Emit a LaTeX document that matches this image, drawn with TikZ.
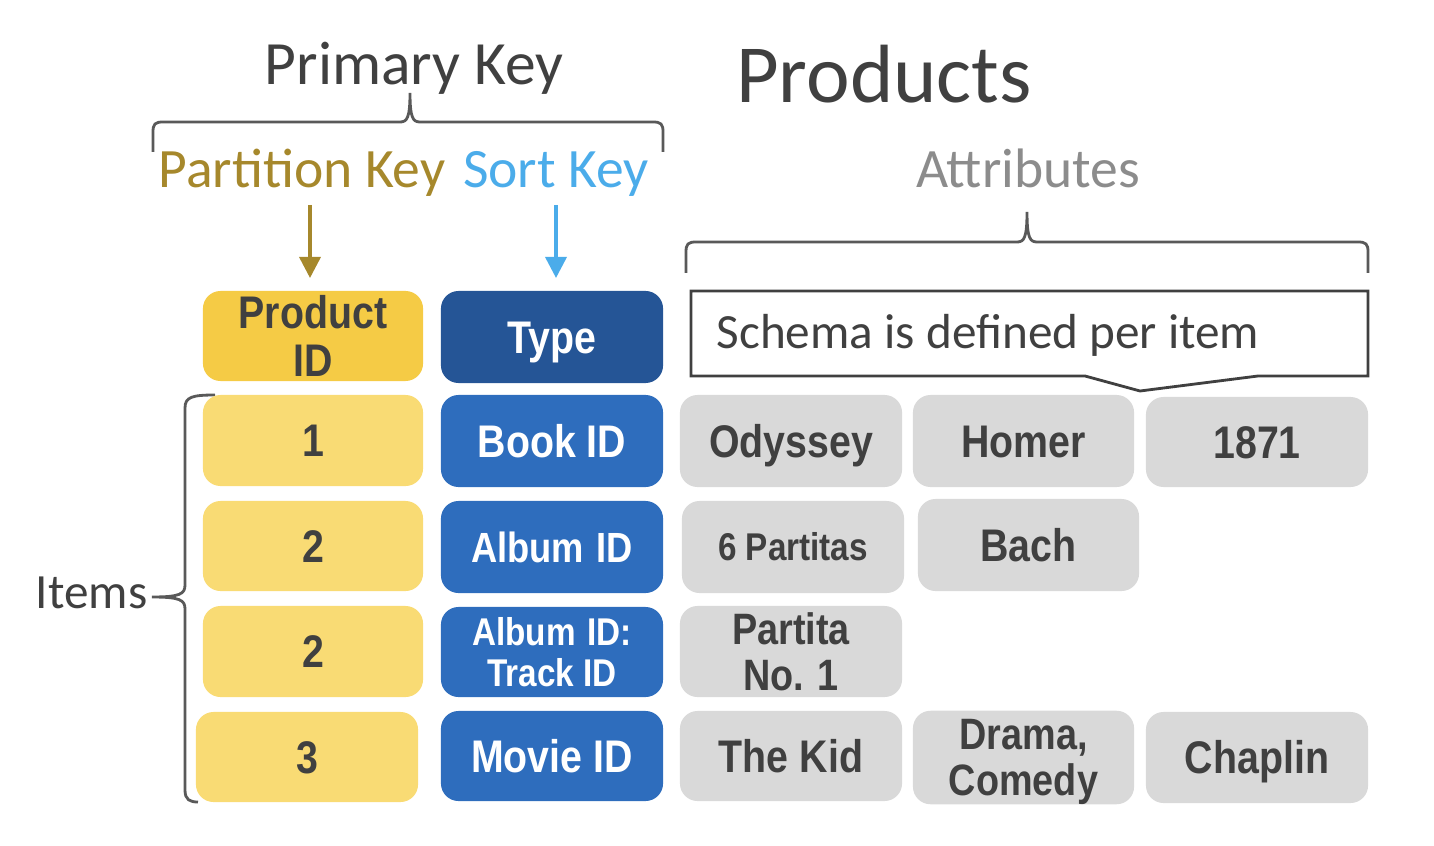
\documentclass[tikz,border=0pt]{standalone}
\usepackage{fontspec}
\setmainfont{Carlito}
\newfontfamily\boxfont[FakeStretch=0.86]{Liberation Sans}
\usetikzlibrary{arrows.meta}
\definecolor{txtdark}{HTML}{404040}
\definecolor{gold}{HTML}{A6882C}
\definecolor{skyb}{HTML}{4BACEA}
\definecolor{attrg}{HTML}{8C8C8C}
\definecolor{hdrY}{HTML}{F5CB45}
\definecolor{cellY}{HTML}{F9DB74}
\definecolor{hdrB}{HTML}{255596}
\definecolor{cellB}{HTML}{2E6DBD}
\definecolor{cellG}{HTML}{D9D9D9}
\definecolor{lineg}{HTML}{595959}
\tikzset{
  cellbox/.style={rounded corners=5pt, inner sep=0pt, align=center,
    font=\boxfont\bfseries\fontsize{13}{13.5}\selectfont},
  oneline/.style={text height=#1, text depth=0pt},
  oneline/.default=9.3pt,
  ycell/.style={cellbox, fill=cellY, text=txtdark, minimum width=2.20cm, minimum height=0.91cm},
  yhead/.style={cellbox, fill=hdrY, text=txtdark, minimum width=2.20cm, minimum height=0.90cm},
  bcell/.style={cellbox, fill=cellB, text=white, minimum width=2.22cm, minimum height=0.92cm},
  bhead/.style={cellbox, fill=hdrB, text=white, minimum width=2.22cm, minimum height=0.92cm},
  gcell/.style={cellbox, fill=cellG, text=txtdark, minimum width=2.22cm, minimum height=0.92cm},
  bracepath/.style={draw=lineg, line width=0.8pt},
  keyarrow/.style={line width=1pt, -{Triangle[width=6pt,length=6pt]}},
  lbl/.style={inner sep=0pt, anchor=base}
}
\begin{document}
\begin{tikzpicture}[x=0.01cm, y=-0.01cm]
\useasboundingbox (0,0) rectangle (1434,846);
% titles
\node[lbl, text=txtdark, font=\fontsize{17.5}{20}\selectfont] (pkey) at (414,85) {Primary Key};
\node[lbl, text=txtdark, font=\fontsize{23.5}{26}\selectfont] (prod) at (884,103) {Products};
\node[lbl, text=gold, font=\fontsize{15.8}{18}\selectfont] (part) at (302,188) {Partition Key};
\node[lbl, text=skyb, font=\fontsize{15.8}{18}\selectfont] (sortk) at (556,188) {Sort Key};
\node[lbl, text=attrg, font=\fontsize{15.8}{18}\selectfont] (attr) at (1028,188) {Attributes};
\node[lbl, anchor=base east, text=txtdark, font=\fontsize{14}{16}\selectfont] (items) at (148,608) {Items};
% braces
\draw[bracepath] (153,152) -- (153,132) .. controls (153,124) and (155,122) .. (163,122) -- (400,122) .. controls (407,122) and (410,118) .. (410,93) .. controls (410,118) and (413,122) .. (420,122) -- (653,122) .. controls (661,122) and (663,124) .. (663,132) -- (663,152);
\draw[bracepath] (686,273) -- (686,252) .. controls (686,244) and (688,242) .. (696,242) -- (1017,242) .. controls (1024,242) and (1027,238) .. (1027,212) .. controls (1027,238) and (1030,242) .. (1037,242) -- (1358,242) .. controls (1366,242) and (1368,244) .. (1368,252) -- (1368,273);
\draw[bracepath] (215,395) .. controls (192,395) and (185,397) .. (185,408) -- (185,585) .. controls (185,594) and (180,597) .. (152,597) .. controls (180,597) and (185,600) .. (185,609) -- (185,790) .. controls (185,800) and (190,802) .. (198,802);
% arrows
\coordinate (pa1) at (310,205);
\coordinate (pa2) at (310,278);
\coordinate (sa1) at (556,205);
\coordinate (sa2) at (556,278);
\draw[keyarrow, draw=gold, fill=gold] (pa1) -- (pa2);
\draw[keyarrow, draw=skyb, fill=skyb] (sa1) -- (sa2);
% headers
\node[yhead] (ph) at (313,336) {Product\\ID};
\node[bhead, oneline] (th) at (552,337) {Type};
% schema callout
\coordinate (c1) at (691,291);
\coordinate (c2) at (1368,291);
\coordinate (c3) at (1368,376);
\coordinate (c4) at (1258,376);
\coordinate (c5) at (1140,391);
\coordinate (c6) at (1085,376);
\coordinate (c7) at (691,376);
\draw[draw=txtdark, line width=0.8pt, line join=miter] (c1) -- (c2) -- (c3) -- (c4) -- (c5) -- (c6) -- (c7) -- cycle;
\node[lbl, anchor=base west, text=txtdark, font=\fontsize{14}{16}\selectfont] (schema) at (716,349) {Schema is defined per item};
% row 1
\node[ycell, oneline] (y1) at (313,440.5) {1};
\node[bcell, oneline] (b1) at (552,441) {Book ID};
\node[gcell, oneline] (g11) at (791,441) {Odyssey};
\node[gcell, oneline, minimum width=2.21cm] (g12) at (1023.5,441) {Homer};
\node[gcell, oneline, minimum height=0.90cm] (g13) at (1257,442) {1871};
% row 2
\node[ycell, oneline, minimum height=0.90cm] (y2) at (313,546) {2};
\node[bcell, oneline=8.6pt, font=\boxfont\bfseries\fontsize{12}{13}\selectfont] (b2) at (552,547) {Album\hspace{0.3em}ID};
\node[gcell, oneline=7.9pt, font=\boxfont\bfseries\fontsize{11}{12}\selectfont] (g21) at (793,547) {6 Partitas};
\node[gcell, oneline, minimum width=2.21cm] (g22) at (1028.5,545) {Bach};
% row 3
\node[ycell, oneline] (y3) at (313,651.5) {2};
\node[bcell, minimum height=0.90cm, font=\boxfont\bfseries\fontsize{11}{11.5}\selectfont] (b3) at (552,652) {Album\hspace{0.3em}ID:\\Track ID};
\node[gcell, minimum height=0.91cm, font=\boxfont\bfseries\fontsize{12.5}{13}\selectfont] (g31) at (791,651.5) {Partita\\No. 1};
% row 4
\node[ycell, oneline, minimum width=2.22cm, minimum height=0.90cm] (y4) at (307,757) {3};
\node[bcell, oneline, minimum height=0.90cm] (b4) at (552,756) {Movie ID};
\node[gcell, oneline, minimum height=0.90cm] (g41) at (791,756) {The Kid};
\node[gcell, minimum width=2.21cm, minimum height=0.91cm, font=\boxfont\bfseries\fontsize{12.5}{13}\selectfont] (g42) at (1023.5,757.5) {\rule{0pt}{11pt}Drama,\\Comedy};
\node[gcell, oneline, minimum height=0.91cm] (g43) at (1257,757.5) {Chaplin};
\end{tikzpicture}
\end{document}
